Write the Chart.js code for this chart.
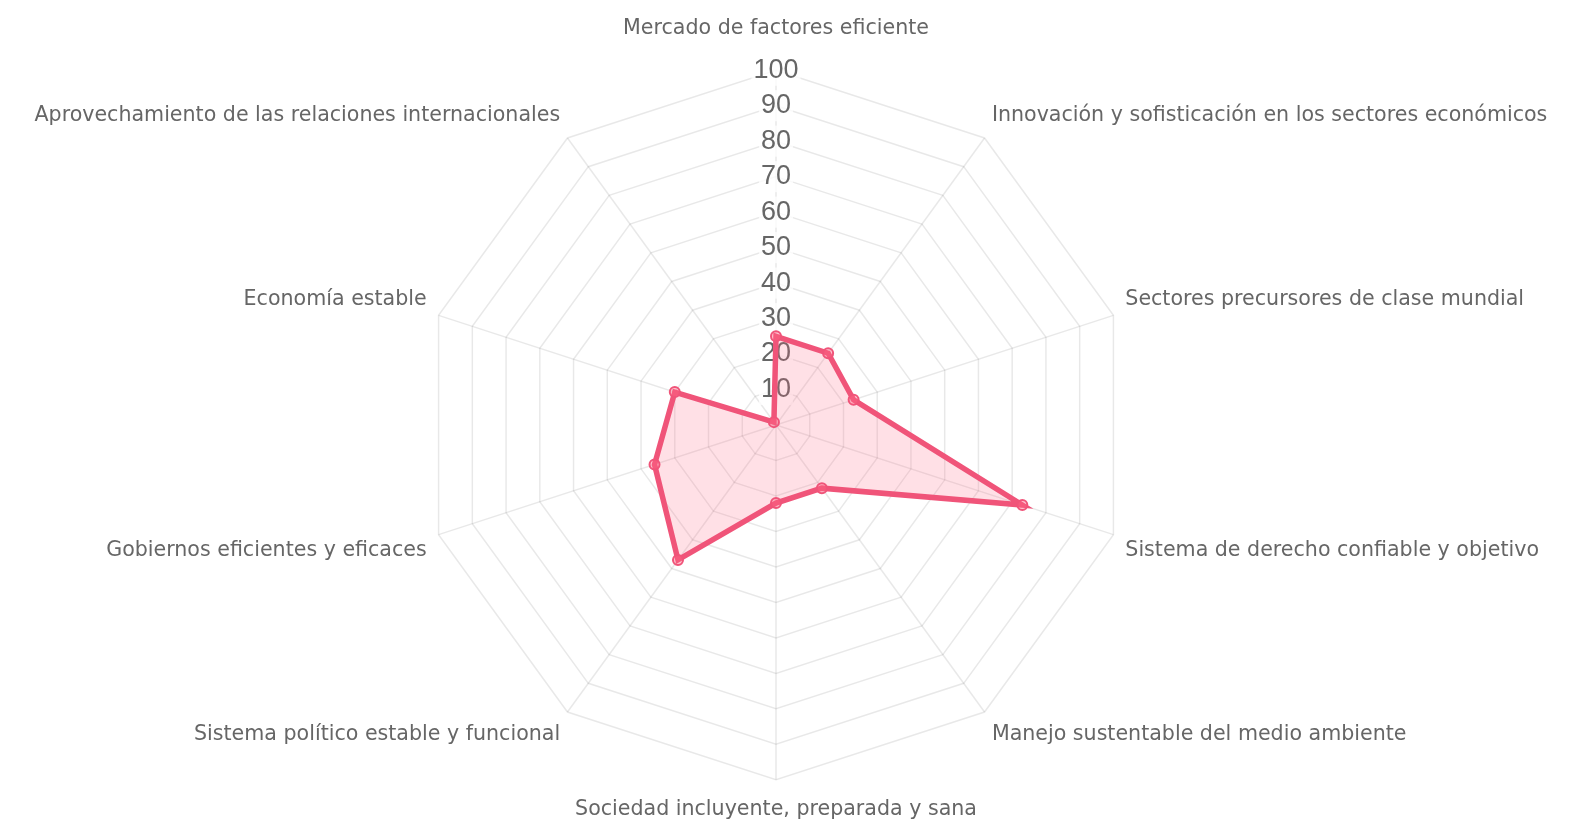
<!DOCTYPE html>
<html>
<head>
<meta charset="utf-8">
<script src="https://cdn.jsdelivr.net/npm/chart.js@4"></script>
<style>
  html, body { margin: 0; padding: 0; background: #fff; overflow: hidden; }
  /* un poco más alto que la ventana: las últimas filas quedan fuera */
  #wrap { width: 1575px; height: 829px; }
</style>
</head>
<body>
<div id="wrap"><canvas id="myChart"></canvas></div>
<script>
const categories = [
  'Mercado de factores eficiente',
  'Innovación y sofisticación en los sectores económicos',
  'Sectores precursores de clase mundial',
  'Sistema de derecho confiable y objetivo',
  'Manejo sustentable del medio ambiente',
  'Sociedad incluyente, preparada y sana',
  'Sistema político estable y funcional',
  'Gobiernos eficientes y eficaces',
  'Economía estable',
  'Aprovechamiento de las relaciones internacionales'
];
const valores = [25, 25, 23, 73, 22, 22, 47, 36, 30, 1];
const escalaMin = 0;
const escalaMax = 100;
const escalaPaso = 10;

const ctx = document.getElementById('myChart');

new Chart(ctx, {
  type: 'radar',
  data: {
    labels: categories,
    datasets: [{
      label: 'Índice',
      data: valores,
      borderColor: 'rgb(240, 84, 121)',
      backgroundColor: 'rgba(255, 99, 132, 0.2)',
      borderWidth: 5.5,
      pointRadius: 5,
      pointBorderWidth: 2,
      pointBackgroundColor: 'rgba(255, 99, 132, 0.4)',
      pointBorderColor: 'rgb(240, 84, 121)'
    }]
  },
  options: {
    responsive: true,
    maintainAspectRatio: false,
    animation: false,
    layout: { padding: { top: 10 } },
    plugins: {
      legend: { display: false },
      tooltip: { enabled: false }
    },
    scales: {
      r: {
        min: escalaMin,
        max: escalaMax,
        grid: { color: 'rgba(0,0,0,0.09)', lineWidth: 1.5 },
        angleLines: { color: 'rgba(0,0,0,0.09)', lineWidth: 1.5 },
        ticks: {
          stepSize: escalaPaso,
          color: '#666',
          font: { family: 'Arial', size: 27 },
          backdropColor: 'rgba(255,255,255,0.75)',
          backdropPadding: 2
        },
        pointLabels: {
          color: '#666',
          // arriba más separación, a los lados menos
          padding: (c) => c.index === 0 ? 14 : (c.index === 5 ? 2 : -3),
          font: { family: 'DejaVu Sans', size: 20.6 }
        }
      }
    }
  }
});
</script>
</body>
</html>
